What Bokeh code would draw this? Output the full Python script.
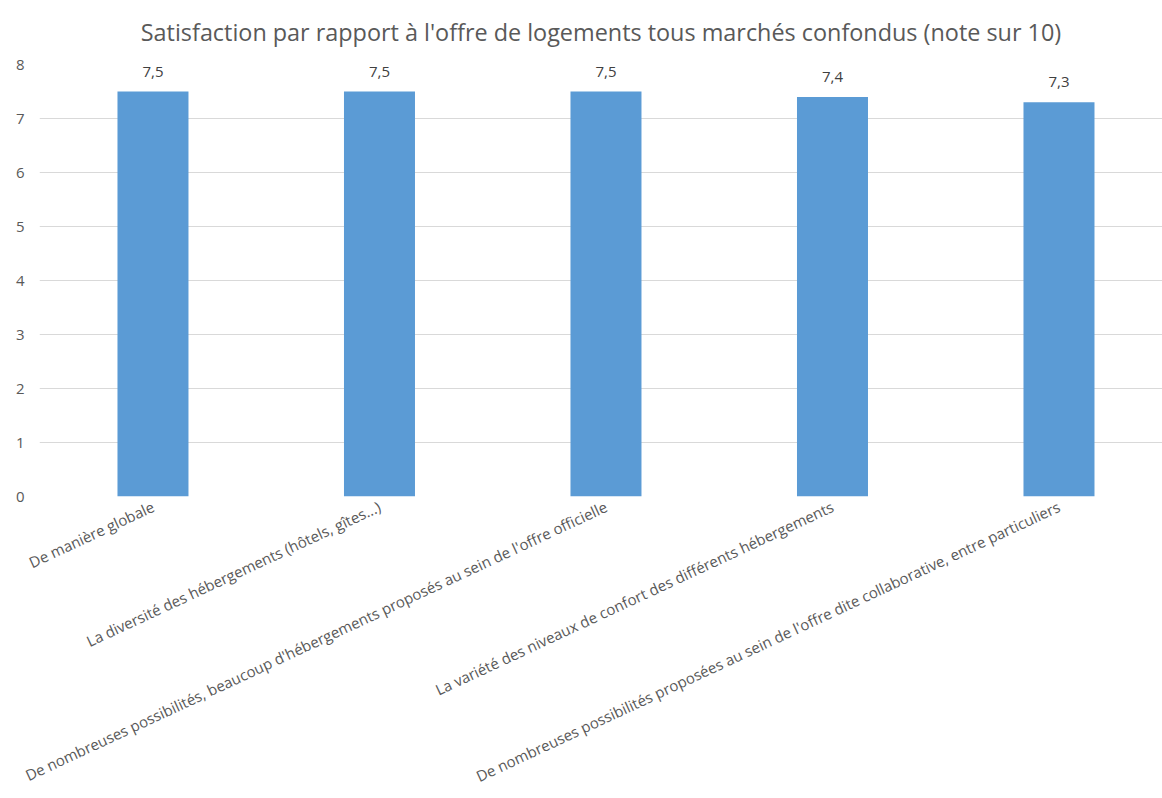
import math
from bokeh.plotting import figure
from bokeh.models import ColumnDataSource, Range1d, FixedTicker, LabelSet
from bokeh.core.properties import value
from bokeh.embed import file_html
from bokeh.resources import INLINE

title_text = "Satisfaction par rapport à l'offre de logements tous marchés confondus (note sur 10)"
categories = [
    "De manière globale",
    "La diversité des hébergements (hôtels, gîtes...)",
    "De nombreuses possibilités, beaucoup d'hébergements proposés au sein de l'offre officielle",
    "La variété des niveaux de confort des différents hébergements",
    "De nombreuses possibilités proposées au sein de l'offre dite collaborative, entre particuliers",
]
values = [7.5, 7.5, 7.5, 7.4, 7.3]
value_labels = ["7,5", "7,5", "7,5", "7,4", "7,3"]
y_ticks = [0, 1, 2, 3, 4, 5, 6, 7, 8]

xs = list(range(len(categories)))
src = ColumnDataSource(dict(x=xs, top=values, lab=value_labels))

FONT = "Open Sans"
GREY = "#595959"

p = figure(
    width=1162, height=798,
    output_backend="svg", toolbar_location=None,
    x_range=Range1d(-0.501, 4.457), y_range=Range1d(0, 8),
    title=title_text,
    min_border_left=39, min_border_right=0, min_border_top=2,
)
p.outline_line_color = None
p.title.align = "center"
p.title.vertical_align = "top"
p.title.text_font = FONT
p.title.text_font_style = "normal"
p.title.text_font_size = "23.4px"
p.title.text_color = GREY
p.title.standoff = 30

p.vbar(x="x", top="top", bottom=0, width=71 / 226.5, source=src,
       fill_color="#5B9BD5", line_color=None)

labels = LabelSet(x="x", y="top", text="lab", source=src,
                  text_align="center", text_baseline="bottom", y_offset=15,
                  text_font=value(FONT), text_font_size="15px", text_color="#404040")
p.add_layout(labels)

p.xgrid.grid_line_color = None
p.ygrid.grid_line_color = "#d9d9d9"
p.ygrid.grid_line_width = 1

p.yaxis.ticker = FixedTicker(ticks=y_ticks)
p.yaxis.axis_line_color = None
p.yaxis.major_tick_line_color = None
p.yaxis.minor_tick_line_color = None
p.yaxis.major_label_text_font = FONT
p.yaxis.major_label_text_font_size = "15px"
p.yaxis.major_label_text_color = GREY
p.yaxis.major_label_standoff = 9

p.xaxis.ticker = FixedTicker(ticks=xs)
p.xaxis.major_label_overrides = {i: c for i, c in enumerate(categories)}
p.xaxis.major_label_orientation = math.radians(25)
p.xaxis.axis_line_color = None
p.xaxis.major_tick_line_color = None
p.xaxis.minor_tick_line_color = None
p.xaxis.major_label_text_font = FONT
p.xaxis.major_label_text_font_size = "15px"
p.xaxis.major_label_text_color = GREY
p.xaxis.major_label_standoff = 3

open("out.html", "w").write(file_html(p, INLINE))
